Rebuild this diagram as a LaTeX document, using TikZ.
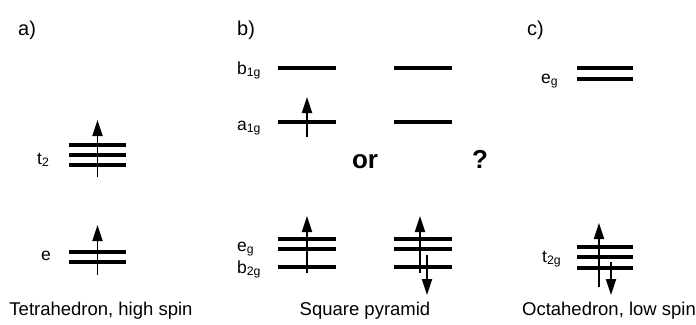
\documentclass[tikz,border=0pt]{standalone}
\usepackage{fontspec}
\setmainfont{Liberation Sans}
\usetikzlibrary{arrows.meta}

\begin{document}
\begin{tikzpicture}[x=1pt,y=-1pt,
  level/.style={line width=4.2pt},
  spin/.style={line width=1.8pt,-{Triangle[length=16pt,width=10pt]}},
  term/.style={anchor=base west,inner sep=0pt,font=\fontsize{17.5}{20}\selectfont},
  panel/.style={anchor=base west,inner sep=0pt,font=\fontsize{20}{22}\selectfont},
  caption/.style={anchor=base,inner sep=0pt,font=\fontsize{18.5}{22}\selectfont},
  choice/.style={anchor=base,inner sep=0pt,font=\fontsize{26}{30}\selectfont\bfseries}]
\useasboundingbox (0,0) rectangle (696,324);

% a) Tetraeder, high spin
\node[panel] (pa) at (18,35) {a)};
\foreach \y in {145,155,165} \draw[level] (69,\y) -- (126,\y);
\foreach \y in {252,262} \draw[level] (69,\y) -- (126,\y);
\node[term] (at2) at (37,164) {t\textsubscript{2}};
\node[term] (ae) at (41,260) {e};
\coordinate (at2lo) at (97.5,177); \coordinate (at2hi) at (97.5,120);
\draw[spin] (at2lo) -- (at2hi);
\coordinate (aelo) at (97.5,275); \coordinate (aehi) at (97.5,225);
\draw[spin] (aelo) -- (aehi);
\node[caption] (capa) at (101,315) {Tetrahedron, high spin};

% b) Quadratische Pyramide, zwei Besetzungen
\node[panel] (pb) at (237,35) {b)};
\foreach \x in {278,394} {
  \foreach \y in {68,122,239,249,267} \draw[level] (\x,\y) -- ++(57.5,0);
}
\node[term] (bb1) at (237,74) {b\textsubscript{1g}};
\node[term] (ba1) at (237,130) {a\textsubscript{1g}};
\node[term] (beg) at (237,251) {e\textsubscript{g}};
\node[term] (bb2) at (237,273) {b\textsubscript{2g}};
\coordinate (ba1lo) at (307,137); \coordinate (ba1hi) at (307,97);
\draw[spin] (ba1lo) -- (ba1hi);
\coordinate (begl) at (307,273); \coordinate (begh) at (307,216);
\draw[spin] (begl) -- (begh);
\coordinate (bupl) at (420,273); \coordinate (buph) at (420,216);
\draw[spin] (bupl) -- (buph);
\coordinate (bdnh) at (427,255); \coordinate (bdnl) at (427,295);
\draw[spin] (bdnh) -- (bdnl);
\node[choice] (bor) at (365,168) {or};
\node[choice] (bq) at (480,168) {?};
\node[caption] (capb) at (365,315) {Square pyramid};

% c) Oktaeder, low spin
\node[panel] (pc) at (527,35) {c)};
\foreach \y in {68,79} \draw[level] (577,\y) -- (633,\y);
\foreach \y in {247,257,268} \draw[level] (577,\y) -- (633,\y);
\node[term] (ceg) at (541,83) {e\textsubscript{g}};
\node[term] (ct2g) at (542,262) {t\textsubscript{2g}};
\coordinate (cupl) at (599,287); \coordinate (cuph) at (599,223);
\draw[spin] (cupl) -- (cuph);
\coordinate (cdnh) at (611,262); \coordinate (cdnl) at (611,295);
\draw[spin] (cdnh) -- (cdnl);
\node[caption] (capc) at (609,315) {Octahedron, low spin};
\end{tikzpicture}
\end{document}
